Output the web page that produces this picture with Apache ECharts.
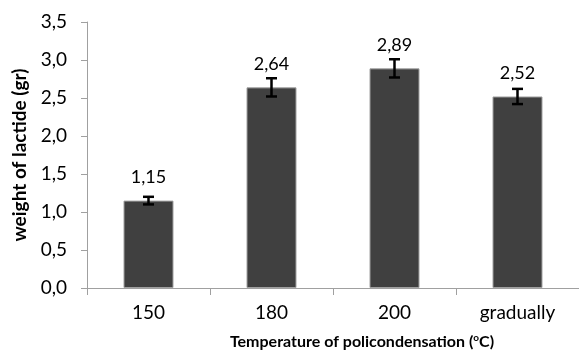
<!DOCTYPE html>
<html>
<head>
<meta charset="utf-8">
<script src="https://cdn.jsdelivr.net/npm/echarts@6/dist/echarts.min.js"></script>
<style>
html,body{margin:0;padding:0;background:#fff;}
#chart{width:579px;height:358px;}
</style>
</head>
<body>
<div id="chart"></div>
<script>
var categories = ['150', '180', '200', 'gradually'];
var values = [1.15, 2.64, 2.89, 2.52];
var errors = [0.05, 0.12, 0.12, 0.10];
var yTicks = [0, 0.5, 1, 1.5, 2, 2.5, 3, 3.5];

var FONT = 'Lato';
function comma(v, d) { return v.toFixed(d).replace('.', ','); }

var chart = echarts.init(document.getElementById('chart'));
var errData = values.map(function (v, i) { return [i, v - errors[i], v + errors[i]]; });

chart.setOption({
  animation: false,
  backgroundColor: '#fff',
  textStyle: { fontFamily: FONT },
  grid: { left: 87, top: 22, width: 504, height: 266, containLabel: false },
  xAxis: {
    type: 'category',
    data: categories,
    name: 'Temperature of policondensation ({sup|o}C)',
    nameLocation: 'middle',
    nameGap: 45,
    nameTextStyle: {
      fontFamily: FONT, fontSize: 16, fontWeight: 'bold', color: '#000',
      padding: [0, 0, 0, 58],
      rich: { sup: { fontFamily: FONT, fontSize: 10, fontWeight: 'bold', color: '#000', verticalAlign: 'top', padding: [0, 0, 7, 0] } }
    },
    axisLine: { show: true, lineStyle: { color: '#a0a0a0', width: 1 } },
    axisTick: { show: true, length: 7, lineStyle: { color: '#a0a0a0' } },
    axisLabel: { color: '#000', fontFamily: FONT, fontSize: 19, margin: 15 }
  },
  yAxis: {
    type: 'value',
    min: yTicks[0],
    max: yTicks[yTicks.length - 1],
    interval: 0.5,
    name: 'weight of lactide (gr)',
    nameLocation: 'middle',
    nameGap: 54,
    nameTextStyle: { fontFamily: FONT, fontSize: 19, fontWeight: 'bold', color: '#000' },
    axisLine: { show: true, lineStyle: { color: '#a0a0a0', width: 1 } },
    axisTick: { show: true, length: 6, lineStyle: { color: '#a0a0a0' } },
    splitLine: { show: false },
    axisLabel: { color: '#000', fontFamily: FONT, fontSize: 19, margin: 20, formatter: function (v) { return comma(v, 1); } }
  },
  series: [
    {
      type: 'bar',
      data: values,
      barWidth: 50,
      itemStyle: { color: '#404040', borderColor: '#a0a0a0', borderWidth: 1 },
      label: {
        show: true, position: 'top', distance: 14, color: '#000', fontFamily: FONT, fontSize: 18,
        formatter: function (p) { return comma(p.value, 2); }
      },
      z: 2
    },
    {
      type: 'custom',
      data: errData,
      z: 3,
      renderItem: function (params, api) {
        var x = api.value(0);
        var lo = api.coord([x, api.value(1)]);
        var hi = api.coord([x, api.value(2)]);
        var hw = 5.5;
        var st = { stroke: '#000', lineWidth: 2.5 };
        return {
          type: 'group',
          children: [
            { type: 'line', shape: { x1: lo[0], y1: lo[1], x2: hi[0], y2: hi[1] }, style: st },
            { type: 'line', shape: { x1: lo[0] - hw, y1: lo[1], x2: lo[0] + hw, y2: lo[1] }, style: st },
            { type: 'line', shape: { x1: hi[0] - hw, y1: hi[1], x2: hi[0] + hw, y2: hi[1] }, style: st }
          ]
        };
      }
    }
  ]
});
</script>
</body>
</html>
